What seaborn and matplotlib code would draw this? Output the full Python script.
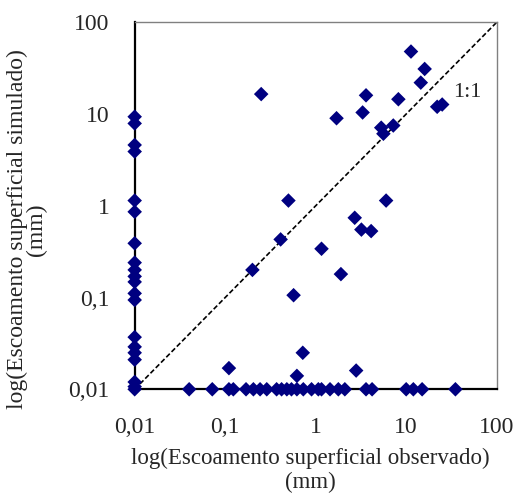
import matplotlib
matplotlib.use("Agg")
import matplotlib.pyplot as plt
import seaborn as sns
import pandas as pd
import numpy as np

# observed (x) vs simulated (y) surface runoff, mm
# events with observed ~ 0 (plotted at 0.01)
sim_only = [9.35, 7.9, 4.6, 3.9, 1.14, 0.86, 0.39, 0.24, 0.2, 0.17, 0.148,
            0.111, 0.094, 0.037, 0.029, 0.025, 0.021, 0.012, 0.0107, 0.01]
# events with simulated ~ 0 (plotted at 0.01)
obs_only = [0.04, 0.072, 0.11, 0.123, 0.17, 0.205, 0.243, 0.288, 0.37, 0.42,
            0.48, 0.54, 0.62, 0.73, 0.9, 1.07, 1.16, 1.44, 1.78, 2.1, 3.6,
            4.2, 10, 12, 15, 35]
# events with both values
obs_pair = [0.25, 11.3, 16, 14.5, 3.6, 8.2, 22, 25, 1.7, 3.3, 5.3, 5.6, 7.2,
            0.5, 6, 0.41, 0.2, 2.7, 3.2, 4.1, 1.16, 1.9, 0.57, 0.72, 0.11,
            0.62, 2.8]
sim_pair = [16.5, 48, 31, 22, 16, 14.5, 12, 12.7, 9, 10.4, 7.1, 6.1, 7.5,
            1.14, 1.14, 0.43, 0.2, 0.74, 0.55, 0.53, 0.34, 0.18, 0.106,
            0.025, 0.017, 0.014, 0.016]

ticks = [0.01, 0.1, 1, 10, 100]
tick_labels = ["0,01", "0,1", "1", "10", "100"]

df = pd.DataFrame({
    "obs": [0.01] * len(sim_only) + obs_only + obs_pair,
    "sim": sim_only + [0.01] * len(obs_only) + sim_pair,
})

sns.set_style("white")
plt.rcParams['font.family'] = ['Liberation Serif', 'DejaVu Serif']

fig = plt.figure(figsize=(5.17, 5.01), dpi=100)
ax = fig.add_axes([0.2605, 0.223, 0.7002, 0.7325])

# 1:1 line
ax.plot([0.01, 100], [0.01, 100], color='black', linestyle=(0, (3, 1.5)),
        linewidth=1.2, zorder=2)

sns.scatterplot(data=df, x="obs", y="sim", marker='D', s=55, color='#000080',
                edgecolor='none', ax=ax, zorder=3, clip_on=False)

ax.set_xscale('log')
ax.set_yscale('log')
ax.set_xlim(0.01, 100)
ax.set_ylim(0.01, 100)
ax.set_xticks(ticks)
ax.set_xticklabels(tick_labels)
ax.set_yticks(ticks)
ax.set_yticklabels(tick_labels)
ax.minorticks_off()

ax.tick_params(axis='both', which='major', direction='out', length=5,
               width=1.3, color='black', labelsize=17)
ax.tick_params(axis='x', pad=15)
ax.tick_params(axis='y', pad=13)

for side in ['left', 'bottom']:
    ax.spines[side].set_color('black')
    ax.spines[side].set_linewidth(1.6)
for side in ['top', 'right']:
    ax.spines[side].set_color('#808080')
    ax.spines[side].set_linewidth(1.0)

ax.text(33, 17, "1:1", fontsize=16, ha='left', va='center')

ax.set_xlabel("log(Escoamento superficial observado)\n(mm)", fontsize=16.5,
              linespacing=1.15)
ax.set_ylabel("log(Escoamento superficial simulado)\n(mm)", fontsize=17,
              linespacing=0.9)
ax.xaxis.set_label_coords(0.484, -0.16)
ax.yaxis.set_label_coords(-0.242, 0.436)

fig.savefig("out.png", dpi=100)
